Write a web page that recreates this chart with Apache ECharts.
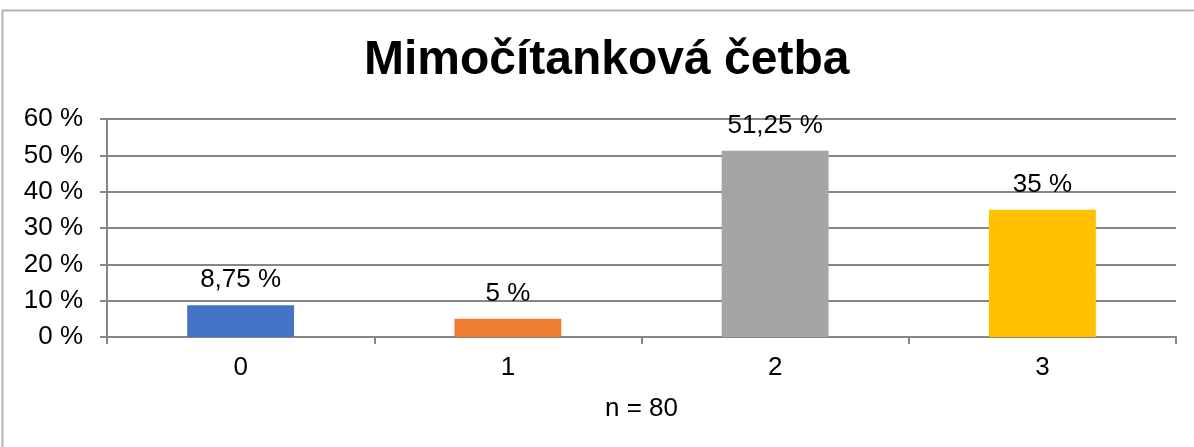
<!DOCTYPE html>
<html>
<head>
<meta charset="utf-8">
<style>
html,body{margin:0;padding:0;background:#fff;}
#c{width:1194px;height:447px;}
</style>
<script src="https://cdn.jsdelivr.net/npm/echarts@6/dist/echarts.min.js"></script>
</head>
<body>
<div id="c"></div>
<script>
const titleText = 'Mimočítanková četba';
const categories = ['0', '1', '2', '3'];
const values = [8.75, 5, 51.25, 35];
const barColors = ['#4472C4', '#ED7D31', '#A5A5A5', '#FFC000'];
const axisName = 'n = 80';

const fmt = v => String(v).replace('.', ',') + ' %';
const font = '"Liberation Sans", Arial, sans-serif';
const chart = echarts.init(document.getElementById('c'), null, {renderer: 'canvas'});
chart.setOption({
  animation: false,
  backgroundColor: '#fff',
  graphic: [{
    type: 'rect', shape: {x: 2.5, y: 10.5, width: 1300, height: 600},
    style: {fill: 'none', stroke: '#b4b4b4', lineWidth: 2}, silent: true
  }],
  title: {
    text: titleText, left: 359, top: 32,
    textStyle: {fontFamily: font, fontSize: 48, fontWeight: 'bold', color: '#000'}
  },
  grid: {left: 107, right: 18, top: 119, bottom: 110, containLabel: false},
  xAxis: {
    type: 'category', data: categories,
    name: axisName, nameLocation: 'middle', nameGap: 59,
    nameTextStyle: {fontFamily: font, fontSize: 26, color: '#000'},
    axisLine: {lineStyle: {color: '#868686', width: 2}},
    axisTick: {show: true, length: 7, alignWithLabel: false, lineStyle: {color: '#868686', width: 2}},
    axisLabel: {fontFamily: font, fontSize: 26, color: '#000', margin: 18}
  },
  yAxis: {
    type: 'value', min: 0, max: 60, interval: 10,
    axisLine: {show: true, lineStyle: {color: '#868686', width: 2}},
    axisTick: {show: true, length: 7, lineStyle: {color: '#868686', width: 2}},
    splitLine: {lineStyle: {color: '#868686', width: 2}},
    axisLabel: {fontFamily: font, fontSize: 26, color: '#000', margin: 24, formatter: v => v + ' %'}
  },
  series: [{
    type: 'bar', barWidth: '40%',
    data: values.map((v, i) => ({value: v, itemStyle: {color: barColors[i]}})),
    label: {
      show: true, position: 'top', distance: 12,
      fontFamily: font, fontSize: 26, color: '#000',
      formatter: p => fmt(p.value)
    }
  }]
});
</script>
</body>
</html>
